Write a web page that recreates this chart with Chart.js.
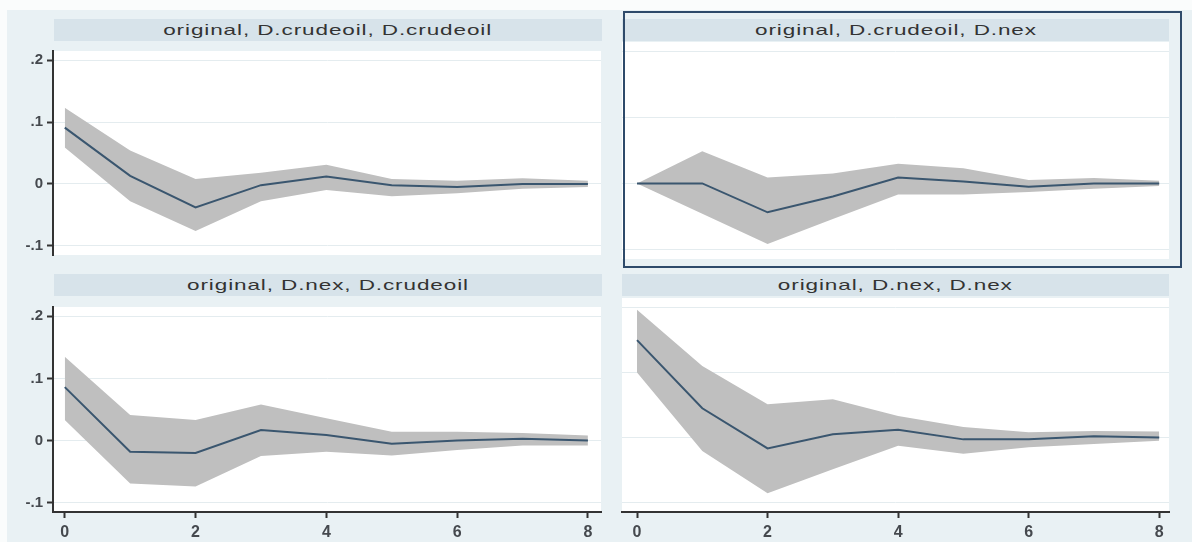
<!DOCTYPE html>
<html lang="en">
<head>
<meta charset="UTF-8">
<title>IRF graph</title>
<script src="https://cdn.jsdelivr.net/npm/chart.js"></script>
<style>
    body { margin: 0; background: #fff; font-family: Arial, "Liberation Sans", sans-serif; }
    #graph { position: relative; width: 1192px; height: 542px; overflow: hidden; background: #fafcfc; }
    #bg { position: absolute; left: 7px; top: 10px; right: 0; bottom: 0; background: #e9f1f4; }
    .strip {
        position: absolute; height: 22px; background: #d7e3ea; color: #333;
        font-size: 15px; line-height: 22px; text-align: center; white-space: nowrap; overflow: hidden;
    }
    .strip span { display: inline-block; transform: scaleX(1.5); letter-spacing: 0.6px; }
    .panel { position: absolute; }
    #frame { position: absolute; left: 623px; top: 11px; width: 555px; height: 253px; border: 2.5px solid #2e4a6a; }
</style>
</head>
<body>
<div id="graph">
    <div id="bg"></div>
    <div class="strip" style="left:54px; top:19px; width:548px;"><span id="t1"></span></div>
    <div class="strip" style="left:622px; top:19px; width:547px;"><span id="t2"></span></div>
    <div class="strip" style="left:54px; top:274px; width:548px;"><span id="t3"></span></div>
    <div class="strip" style="left:622px; top:274px; width:547px;"><span id="t4"></span></div>
    <div class="panel" style="left:0; top:38px;"><canvas id="c1" width="602" height="230"></canvas></div>
    <div class="panel" style="left:602px; top:38px;"><canvas id="c2" width="590" height="230"></canvas></div>
    <div class="panel" style="left:0; top:294px;"><canvas id="c3" width="602" height="248"></canvas></div>
    <div class="panel" style="left:602px; top:294px;"><canvas id="c4" width="590" height="248"></canvas></div>
    <div id="frame"></div>
</div>

<script>
    // steps and axis ticks
    const steps = [0, 1, 2, 3, 4, 5, 6, 7, 8];
    const xTicks = [0, 2, 4, 6, 8];
    const yTicks = [-0.1, 0, 0.1, 0.2];
    const yTickLabels = ['-.1', '0', '.1', '.2'];

    const titles = [
        'original, D.crudeoil, D.crudeoil',
        'original, D.crudeoil, D.nex',
        'original, D.nex, D.crudeoil',
        'original, D.nex, D.nex'
    ];

    // impulse: crudeoil, response: crudeoil
    const irfOilOil   = [0.091, 0.013, -0.038, -0.002, 0.012, -0.002, -0.005, 0.000, 0.000];
    const upperOilOil = [0.123, 0.054, 0.008, 0.018, 0.031, 0.008, 0.005, 0.009, 0.005];
    const lowerOilOil = [0.059, -0.028, -0.076, -0.028, -0.010, -0.020, -0.015, -0.008, -0.005];

    // impulse: crudeoil, response: nex
    const irfOilNex   = [0.000, 0.000, -0.044, -0.020, 0.009, 0.003, -0.005, 0.000, 0.000];
    const upperOilNex = [0.000, 0.049, 0.009, 0.015, 0.030, 0.023, 0.005, 0.008, 0.004];
    const lowerOilNex = [0.000, -0.046, -0.092, -0.054, -0.017, -0.017, -0.013, -0.008, -0.004];

    // impulse: nex, response: crudeoil
    const irfNexOil   = [0.086, -0.018, -0.020, 0.017, 0.009, -0.005, 0.000, 0.003, 0.000];
    const upperNexOil = [0.135, 0.041, 0.033, 0.058, 0.036, 0.014, 0.014, 0.012, 0.008];
    const lowerNexOil = [0.033, -0.069, -0.074, -0.025, -0.018, -0.024, -0.015, -0.008, -0.008];

    // impulse: nex, response: nex
    const irfNexNex   = [0.150, 0.045, -0.017, 0.005, 0.012, -0.003, -0.003, 0.002, 0.000];
    const upperNexNex = [0.197, 0.110, 0.051, 0.059, 0.033, 0.016, 0.008, 0.010, 0.009];
    const lowerNexNex = [0.100, -0.021, -0.086, -0.049, -0.013, -0.025, -0.015, -0.010, -0.005];

    titles.forEach((t, i) => { document.getElementById('t' + (i + 1)).textContent = t; });

    const lineColor = '#3a566f';
    const bandColor = '#bfbfbf';
    const gridColor = '#e4ecef';
    const axisColor = '#333333';
    const tickText = '#45494e';

    // white plot region
    const plotBg = {
        id: 'plotBg',
        beforeDraw(chart) {
            const { ctx, chartArea: a } = chart;
            ctx.save();
            ctx.fillStyle = '#ffffff';
            ctx.fillRect(a.left, a.top, a.right - a.left, a.bottom - a.top);
            ctx.restore();
        }
    };

    function pts(arr) {
        return steps.map((s, i) => ({ x: s, y: arr[i] }));
    }

    function makePanel(id, irf, upper, lower, left, bottom) {
        const top = 4;
        const xHeight = bottom ? 30 : 0;
        const canvasH = document.getElementById(id).height;
        const plotH = bottom ? 214 : 217;
        return new Chart(document.getElementById(id), {
            type: 'line',
            data: {
                datasets: [
                    { data: pts(irf), borderColor: lineColor, borderWidth: 2, pointRadius: 0, tension: 0, fill: false },
                    { data: pts(upper), borderWidth: 0, pointRadius: 0, tension: 0, fill: '+1', backgroundColor: bandColor },
                    { data: pts(lower), borderWidth: 0, pointRadius: 0, tension: 0, fill: false }
                ]
            },
            options: {
                responsive: false,
                animation: false,
                layout: { padding: { top: top, right: left ? 1 : 23, bottom: canvasH - top - plotH - xHeight, left: 0 } },
                plugins: { legend: { display: false }, tooltip: { enabled: false } },
                scales: {
                    x: {
                        type: 'linear',
                        min: left ? -0.18 : -0.23,
                        max: left ? 8.2 : 8.15,
                        display: bottom,
                        afterBuildTicks: axis => { axis.ticks = xTicks.map(v => ({ value: v })); },
                        afterFit: axis => { axis.height = xHeight; },
                        grid: { drawOnChartArea: false, drawTicks: true, tickLength: 6, tickColor: axisColor, tickWidth: 2 },
                        border: { display: true, color: axisColor, width: 2 },
                        ticks: { color: tickText, font: { family: 'Arial', size: 16, weight: 'bold' }, padding: 5, maxRotation: 0, autoSkip: false }
                    },
                    y: {
                        min: -0.115,
                        max: 0.215,
                        afterBuildTicks: axis => { axis.ticks = yTicks.map(v => ({ value: v })); },
                        afterFit: axis => { axis.width = left ? 53 : 20; },
                        grid: { color: gridColor, lineWidth: 1, drawTicks: left, tickLength: 6, tickColor: axisColor, tickWidth: 2 },
                        border: { display: left, color: axisColor, width: 2 },
                        ticks: {
                            display: left,
                            color: tickText,
                            font: { family: 'Arial', size: 15, weight: 'bold' },
                            padding: 4,
                            callback: (v, i) => yTickLabels[i]
                        }
                    }
                }
            },
            plugins: [plotBg]
        });
    }

    makePanel('c1', irfOilOil, upperOilOil, lowerOilOil, true, false);
    makePanel('c2', irfOilNex, upperOilNex, lowerOilNex, false, false);
    makePanel('c3', irfNexOil, upperNexOil, lowerNexOil, true, true);
    makePanel('c4', irfNexNex, upperNexNex, lowerNexNex, false, true);
</script>
</body>
</html>
